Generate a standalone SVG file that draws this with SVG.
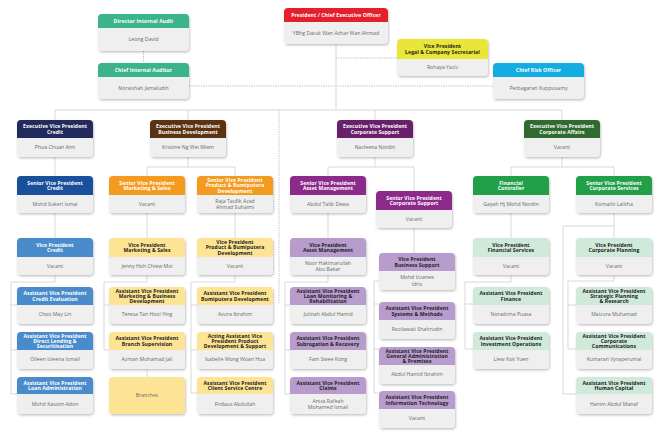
<svg xmlns="http://www.w3.org/2000/svg" width="660" height="440" viewBox="0 0 660 440">
<defs>
<filter id="sh" x="-10%" y="-10%" width="125%" height="135%"><feDropShadow dx="0.8" dy="1.3" stdDeviation="0.9" flood-color="#000" flood-opacity="0.25"/></filter>
<style>
.b{fill:#efefef;filter:url(#sh)}
.t{font-family:"Open Sans","Liberation Sans",sans-serif;font-size:5.1px;letter-spacing:0.08px;font-weight:700;fill:#fff;text-anchor:middle}
.k{fill:#222}
.n{font-family:"Open Sans","Liberation Sans",sans-serif;font-size:5.2px;fill:#6a6a6a;text-anchor:middle}
.ln{stroke:#cfcfcf;stroke-width:0.8;fill:none}
.dt{stroke:#a8a8a8;stroke-width:0.8;stroke-dasharray:1.2 1.2;fill:none}
.teal{fill:#3bb38b}.red{fill:#e3202b}.yel{fill:#eae638}.cyan{fill:#14ade2}
.navy{fill:#232a5c}.blue{fill:#1a4f9c}.lblue{fill:#4a8ccb}
.brown{fill:#5b3311}.orange{fill:#f39b1f}.pyel{fill:#fde495}
.dpur{fill:#6a1f6b}.pur{fill:#8c2a8c}.lav{fill:#b79ccd}
.dgrn{fill:#2f6b2e}.grn{fill:#21a049}.mint{fill:#cfeadb}
</style>
</defs>
<rect width="660" height="440" fill="#fff"/>

<g id="connectors">
<path class="dt" d="M143.5 51V63M189 86H493M336 58H397M279 110V304"/>
<path class="ln" d="M336 44V110M55 110H562M55 110V120M188 110V120M375 110V120M562 110V120"/>
<path class="ln" d="M55 157V176M188 157V167M147 167H235M147 167V176M235 167V176M375 157V167M328 167H414M328 167V176M414 167V191M562 157V167M511 167H614M511 167V176M614 167V176"/>
<path class="ln" d="M55 213V238M147 213V238M235 213V238M328 213V238M414 228V253M511 213V238M614 213V238M614 226H563V394H576"/>
<path class="ln" d="M55 275V282H11V394H17M11 305H17M11 350H17"/>
<path class="ln" d="M147 275V282H104V350H109M104 305H109M147 369V377"/>
<path class="ln" d="M235 275V282H191V393H197M191 305H197M191 350H197"/>
<path class="ln" d="M328 275V282H285V394H290M285 305H290M285 350H290"/>
<path class="ln" d="M379 281H374V393H379M374 304H379M374 349H379"/>
<path class="ln" d="M511 275V282H465V349H473M465 304H473"/>
<path class="ln" d="M614 275V281H568V349H576M568 305H576"/>
</g>

<g id="dia"><rect class="b" x="98" y="14" width="91" height="37" rx="4"/><path class="teal" d="M98 28V18Q98 14 102 14H185Q189 14 189 18V28Z"/><text class="t" x="143.5" y="22.9">Director Internal Audit</text><text class="n" x="143.5" y="41.4">Leong David</text></g>
<g id="cia"><rect class="b" x="98" y="63" width="91" height="36" rx="4"/><path class="teal" d="M98 77V67Q98 63 102 63H185Q189 63 189 67V77Z"/><text class="t" x="143.5" y="71.9">Chief Internal Auditor</text><text class="n" x="143.5" y="89.9">Noraishah Jamaludin</text></g>
<g id="ceo"><rect class="b" x="284" y="8" width="104" height="36" rx="4"/><path class="red" d="M284 22V12Q284 8 288 8H384Q388 8 388 12V22Z"/><text class="t" x="336" y="16.9">President / Chief Executive Officer</text><text class="n" x="336" y="34.9">YBhg Datuk Wan Azhar Wan Ahmad</text></g>
<g id="legal"><rect class="b" x="397" y="39" width="91" height="37" rx="4"/><path class="yel" d="M397 59V43Q397 39 401 39H484Q488 39 488 43V59Z"/><text class="t k" x="442.5" y="48.3">Vice President</text><text class="t k" x="442.5" y="53.5">Legal &amp; Company Secretarial</text><text class="n" x="442.5" y="69.4">Rohaya Yaziz</text></g>
<g id="cro"><rect class="b" x="493" y="63" width="91" height="36" rx="4"/><path class="cyan" d="M493 77V67Q493 63 497 63H580Q584 63 584 67V77Z"/><text class="t" x="538.5" y="71.9">Chief Risk Officer</text><text class="n" x="538.5" y="89.9">Perbagaran Kuppusamy</text></g>

<g id="evp-credit"><rect class="b" x="17" y="120" width="76" height="37" rx="4"/><path class="navy" d="M17 138V124Q17 120 21 120H89Q93 120 93 124V138Z"/><text class="t" x="55" y="128.3">Executive Vice President</text><text class="t" x="55" y="133.5">Credit</text><text class="n" x="55" y="149.4">Phua Chuan Ann</text></g>
<g id="evp-bd"><rect class="b" x="150" y="120" width="76" height="37" rx="4"/><path class="brown" d="M150 138V124Q150 120 154 120H222Q226 120 226 124V138Z"/><text class="t" x="188" y="128.3">Executive Vice President</text><text class="t" x="188" y="133.5">Business Development</text><text class="n" x="188" y="149.4">Kristine Ng Wei Miem</text></g>
<g id="evp-cs"><rect class="b" x="337" y="120" width="76" height="37" rx="4"/><path class="dpur" d="M337 138V124Q337 120 341 120H409Q413 120 413 124V138Z"/><text class="t" x="375" y="128.3">Executive Vice President</text><text class="t" x="375" y="133.5">Corporate Support</text><text class="n" x="375" y="149.4">Nazleena Nordin</text></g>
<g id="evp-ca"><rect class="b" x="524" y="120" width="76" height="37" rx="4"/><path class="dgrn" d="M524 138V124Q524 120 528 120H596Q600 120 600 124V138Z"/><text class="t" x="562" y="128.3">Executive Vice President</text><text class="t" x="562" y="133.5">Corporate Affairs</text><text class="n" x="562" y="149.4">Vacant</text></g>

<g id="svp-credit"><rect class="b" x="17" y="176" width="76" height="37" rx="4"/><path class="blue" d="M17 195V180Q17 176 21 176H89Q93 176 93 180V195Z"/><text class="t" x="55" y="184.8">Senior Vice President</text><text class="t" x="55" y="190">Credit</text><text class="n" x="55" y="205.9">Mohd Sukeri Ismai</text></g>
<g id="svp-ms"><rect class="b" x="109" y="176" width="76" height="37" rx="4"/><path class="orange" d="M109 195V180Q109 176 113 176H181Q185 176 185 180V195Z"/><text class="t" x="147" y="184.8">Senior Vice President</text><text class="t" x="147" y="190">Marketing &amp; Sales</text><text class="n" x="147" y="205.9">Vacant</text></g>
<g id="svp-pb"><rect class="b" x="197" y="176" width="76" height="37" rx="4"/><path class="orange" d="M197 195V180Q197 176 201 176H269Q273 176 273 180V195Z"/><text class="t" x="235" y="182.2">Senior Vice President</text><text class="t" x="235" y="187.4">Product &amp; Bumiputera</text><text class="t" x="235" y="192.6">Development</text><text class="n" x="235" y="202.8">Raja Taufik Azad</text><text class="n" x="235" y="209">Ahmad Suhaimi</text></g>
<g id="svp-am"><rect class="b" x="290" y="176" width="76" height="37" rx="4"/><path class="pur" d="M290 195V180Q290 176 294 176H362Q366 176 366 180V195Z"/><text class="t" x="328" y="184.8">Senior Vice President</text><text class="t" x="328" y="190">Asset Management</text><text class="n" x="328" y="205.9">Abdul Talib Dewa</text></g>
<g id="svp-cs"><rect class="b" x="376" y="191" width="76" height="37" rx="4"/><path class="pur" d="M376 210V195Q376 191 380 191H448Q452 191 452 195V210Z"/><text class="t" x="414" y="199.8">Senior Vice President</text><text class="t" x="414" y="205">Corporate Support</text><text class="n" x="414" y="220.9">Vacant</text></g>
<g id="fc"><rect class="b" x="473" y="176" width="76" height="37" rx="4"/><path class="grn" d="M473 195V180Q473 176 477 176H545Q549 176 549 180V195Z"/><text class="t" x="511" y="184.8">Financial</text><text class="t" x="511" y="190">Controller</text><text class="n" x="511" y="205.9">Gayah Hj Mohd Nordin</text></g>
<g id="svp-cserv"><rect class="b" x="576" y="176" width="76" height="37" rx="4"/><path class="grn" d="M576 195V180Q576 176 580 176H648Q652 176 652 180V195Z"/><text class="t" x="614" y="184.8">Senior Vice President</text><text class="t" x="614" y="190">Corporate Services</text><text class="n" x="614" y="205.9">Komathi Lalitha</text></g>

<g id="vp-credit"><rect class="b" x="17" y="238" width="76" height="37" rx="4"/><path class="lblue" d="M17 257V242Q17 238 21 238H89Q93 238 93 242V257Z"/><text class="t" x="55" y="246.8">Vice President</text><text class="t" x="55" y="252">Credit</text><text class="n" x="55" y="267.9">Vacant</text></g>
<g id="vp-ms"><rect class="b" x="109" y="238" width="76" height="37" rx="4"/><path class="pyel" d="M109 257V242Q109 238 113 238H181Q185 238 185 242V257Z"/><text class="t k" x="147" y="246.8">Vice President</text><text class="t k" x="147" y="252">Marketing &amp; Sales</text><text class="n" x="147" y="267.9">Jenny Hoh Chiew Moi</text></g>
<g id="vp-pb"><rect class="b" x="197" y="238" width="76" height="37" rx="4"/><path class="pyel" d="M197 257V242Q197 238 201 238H269Q273 238 273 242V257Z"/><text class="t k" x="235" y="244.2">Vice President</text><text class="t k" x="235" y="249.4">Product &amp; Bumiputera</text><text class="t k" x="235" y="254.6">Development</text><text class="n" x="235" y="267.9">Vacant</text></g>
<g id="vp-am"><rect class="b" x="290" y="238" width="76" height="37" rx="4"/><path class="lav" d="M290 257V242Q290 238 294 238H362Q366 238 366 242V257Z"/><text class="t k" x="328" y="246.8">Vice President</text><text class="t k" x="328" y="252">Asset Management</text><text class="n" x="328" y="265">Noor Hakimarullah</text><text class="n" x="328" y="271.2">Abu Bakar</text></g>
<g id="vp-bs"><rect class="b" x="379" y="253" width="76" height="37" rx="4"/><path class="lav" d="M379 271V257Q379 253 383 253H451Q455 253 455 257V271Z"/><text class="t k" x="417" y="261.3">Vice President</text><text class="t k" x="417" y="266.5">Business Support</text><text class="n" x="417" y="279.4">Mohd Izzanee</text><text class="n" x="417" y="285.6">Idris</text></g>
<g id="vp-fs"><rect class="b" x="473" y="238" width="76" height="37" rx="4"/><path class="mint" d="M473 257V242Q473 238 477 238H545Q549 238 549 242V257Z"/><text class="t k" x="511" y="246.8">Vice President</text><text class="t k" x="511" y="252">Financial Services</text><text class="n" x="511" y="267.9">Vacant</text></g>
<g id="vp-cp"><rect class="b" x="576" y="238" width="76" height="37" rx="4"/><path class="mint" d="M576 257V242Q576 238 580 238H648Q652 238 652 242V257Z"/><text class="t k" x="614" y="246.8">Vice President</text><text class="t k" x="614" y="252">Corporate Planning</text><text class="n" x="614" y="267.9">Vacant</text></g>

<g id="avp-ce"><rect class="b" x="17" y="287" width="76" height="37" rx="4"/><path class="lblue" d="M17 305V291Q17 287 21 287H89Q93 287 93 291V305Z"/><text class="t" x="55" y="295.3">Assistant Vice President</text><text class="t" x="55" y="300.5">Credit Evaluation</text><text class="n" x="55" y="316.4">Choo May Lin</text></g>
<g id="avp-dls"><rect class="b" x="17" y="332" width="76" height="37" rx="4"/><path class="lblue" d="M17 350V336Q17 332 21 332H89Q93 332 93 336V350Z"/><text class="t" x="55" y="337.7">Assistant Vice President</text><text class="t" x="55" y="342.9">Direct Lending &amp;</text><text class="t" x="55" y="348.1">Securitisation</text><text class="n" x="55" y="361.4">Oileen Izleena Ismail</text></g>
<g id="avp-la"><rect class="b" x="17" y="377" width="76" height="37" rx="4"/><path class="lblue" d="M17 394V381Q17 377 21 377H89Q93 377 93 381V394Z"/><text class="t" x="55" y="384.8">Assistant Vice President</text><text class="t" x="55" y="390">Loan Administration</text><text class="n" x="55" y="405.9">Mohd Kassim Adon</text></g>

<g id="avp-mbd"><rect class="b" x="109" y="287" width="76" height="37" rx="4"/><path class="pyel" d="M109 305V291Q109 287 113 287H181Q185 287 185 291V305Z"/><text class="t k" x="147" y="292.7">Assistant Vice President</text><text class="t k" x="147" y="297.9">Marketing &amp; Business</text><text class="t k" x="147" y="303.1">Development</text><text class="n" x="147" y="316.4">Teresa Tan Hooi Ying</text></g>
<g id="avp-bsup"><rect class="b" x="109" y="332" width="76" height="37" rx="4"/><path class="pyel" d="M109 350V336Q109 332 113 332H181Q185 332 185 336V350Z"/><text class="t k" x="147" y="340.3">Assistant Vice President</text><text class="t k" x="147" y="345.5">Branch Supervision</text><text class="n" x="147" y="361.4">Azman Mohamad Jali</text></g>
<g id="branches"><rect class="b" x="109" y="377" width="76" height="37" rx="4" style="fill:#fde495"/><text class="n" x="147" y="397.4">Branches</text></g>

<g id="avp-bumi"><rect class="b" x="197" y="287" width="76" height="37" rx="4"/><path class="pyel" d="M197 305V291Q197 287 201 287H269Q273 287 273 291V305Z"/><text class="t k" x="235" y="295.3">Assistant Vice President</text><text class="t k" x="235" y="300.5">Bumiputera Development</text><text class="n" x="235" y="316.4">Azura Ibrahim</text></g>
<g id="aavp-pds"><rect class="b" x="197" y="332" width="76" height="37" rx="4"/><path class="pyel" d="M197 350V336Q197 332 201 332H269Q273 332 273 336V350Z"/><text class="t k" x="235" y="337.7">Acting Assistant Vice</text><text class="t k" x="235" y="342.9">President Product</text><text class="t k" x="235" y="348.1">Development &amp; Support</text><text class="n" x="235" y="361.4">Isabelle Wong Woan Hua</text></g>
<g id="avp-csc"><rect class="b" x="197" y="377" width="76" height="37" rx="4"/><path class="pyel" d="M197 394V381Q197 377 201 377H269Q273 377 273 381V394Z"/><text class="t k" x="235" y="384.8">Assistant Vice President</text><text class="t k" x="235" y="390">Client Service Centre</text><text class="n" x="235" y="405.9">Firdaus Abdullah</text></g>

<g id="avp-lmr"><rect class="b" x="290" y="287" width="76" height="37" rx="4"/><path class="lav" d="M290 305V291Q290 287 294 287H362Q366 287 366 291V305Z"/><text class="t k" x="328" y="292.7">Assistant Vice President</text><text class="t k" x="328" y="297.9">Loan Monitoring &amp;</text><text class="t k" x="328" y="303.1">Rehabilitation</text><text class="n" x="328" y="316.4">Julinah Abdul Hamid</text></g>
<g id="avp-sr"><rect class="b" x="290" y="332" width="76" height="37" rx="4"/><path class="lav" d="M290 350V336Q290 332 294 332H362Q366 332 366 336V350Z"/><text class="t k" x="328" y="340.3">Assistant Vice President</text><text class="t k" x="328" y="345.5">Subrogation &amp; Recovery</text><text class="n" x="328" y="361.4">Fam Swee Kong</text></g>
<g id="avp-claims"><rect class="b" x="290" y="377" width="76" height="37" rx="4"/><path class="lav" d="M290 394V381Q290 377 294 377H362Q366 377 366 381V394Z"/><text class="t k" x="328" y="384.8">Assistant Vice President</text><text class="t k" x="328" y="390">Claims</text><text class="n" x="328" y="403">Aniza Rafeah</text><text class="n" x="328" y="409.2">Mohamed Ismail</text></g>

<g id="avp-sm"><rect class="b" x="379" y="302" width="76" height="37" rx="4"/><path class="lav" d="M379 320V306Q379 302 383 302H451Q455 302 455 306V320Z"/><text class="t k" x="417" y="310.3">Assistant Vice President</text><text class="t k" x="417" y="315.5">Systems &amp; Methods</text><text class="n" x="417" y="331.4">Rozilawati Shahrudin</text></g>
<g id="avp-gap"><rect class="b" x="379" y="347" width="76" height="37" rx="4"/><path class="lav" d="M379 365V351Q379 347 383 347H451Q455 347 455 351V365Z"/><text class="t k" x="417" y="352.7">Assistant Vice President</text><text class="t k" x="417" y="357.9">General Administration</text><text class="t k" x="417" y="363.1">&amp; Premises</text><text class="n" x="417" y="376.4">Abdul Hamid Ibrahim</text></g>
<g id="avp-it"><rect class="b" x="379" y="391" width="76" height="37" rx="4"/><path class="lav" d="M379 409V395Q379 391 383 391H451Q455 391 455 395V409Z"/><text class="t k" x="417" y="399.3">Assistant Vice President</text><text class="t k" x="417" y="404.5">Information Technology</text><text class="n" x="417" y="420.4">Vacant</text></g>

<g id="avp-fin"><rect class="b" x="473" y="287" width="76" height="37" rx="4"/><path class="mint" d="M473 305V291Q473 287 477 287H545Q549 287 549 291V305Z"/><text class="t k" x="511" y="295.3">Assistant Vice President</text><text class="t k" x="511" y="300.5">Finance</text><text class="n" x="511" y="316.4">Noradzina Puasa</text></g>
<g id="avp-io"><rect class="b" x="473" y="332" width="76" height="37" rx="4"/><path class="mint" d="M473 350V336Q473 332 477 332H545Q549 332 549 336V350Z"/><text class="t k" x="511" y="340.3">Assistant Vice President</text><text class="t k" x="511" y="345.5">Investment Operations</text><text class="n" x="511" y="361.4">Liew Kok Yuen</text></g>

<g id="avp-spr"><rect class="b" x="576" y="287" width="76" height="37" rx="4"/><path class="mint" d="M576 305V291Q576 287 580 287H648Q652 287 652 291V305Z"/><text class="t k" x="614" y="292.7">Assistant Vice President</text><text class="t k" x="614" y="297.9">Strategic Planning</text><text class="t k" x="614" y="303.1">&amp; Research</text><text class="n" x="614" y="316.4">Maizura Muhamad</text></g>
<g id="avp-cc"><rect class="b" x="576" y="332" width="76" height="37" rx="4"/><path class="mint" d="M576 350V336Q576 332 580 332H648Q652 332 652 336V350Z"/><text class="t k" x="614" y="337.7">Assistant Vice President</text><text class="t k" x="614" y="342.9">Corporate</text><text class="t k" x="614" y="348.1">Communications</text><text class="n" x="614" y="361.4">Kumaran Vyraperumal</text></g>
<g id="avp-hc"><rect class="b" x="576" y="377" width="76" height="37" rx="4"/><path class="mint" d="M576 394V381Q576 377 580 377H648Q652 377 652 381V394Z"/><text class="t k" x="614" y="384.8">Assistant Vice President</text><text class="t k" x="614" y="390">Human Capital</text><text class="n" x="614" y="405.9">Hanim Abdul Manaf</text></g>
</svg>
